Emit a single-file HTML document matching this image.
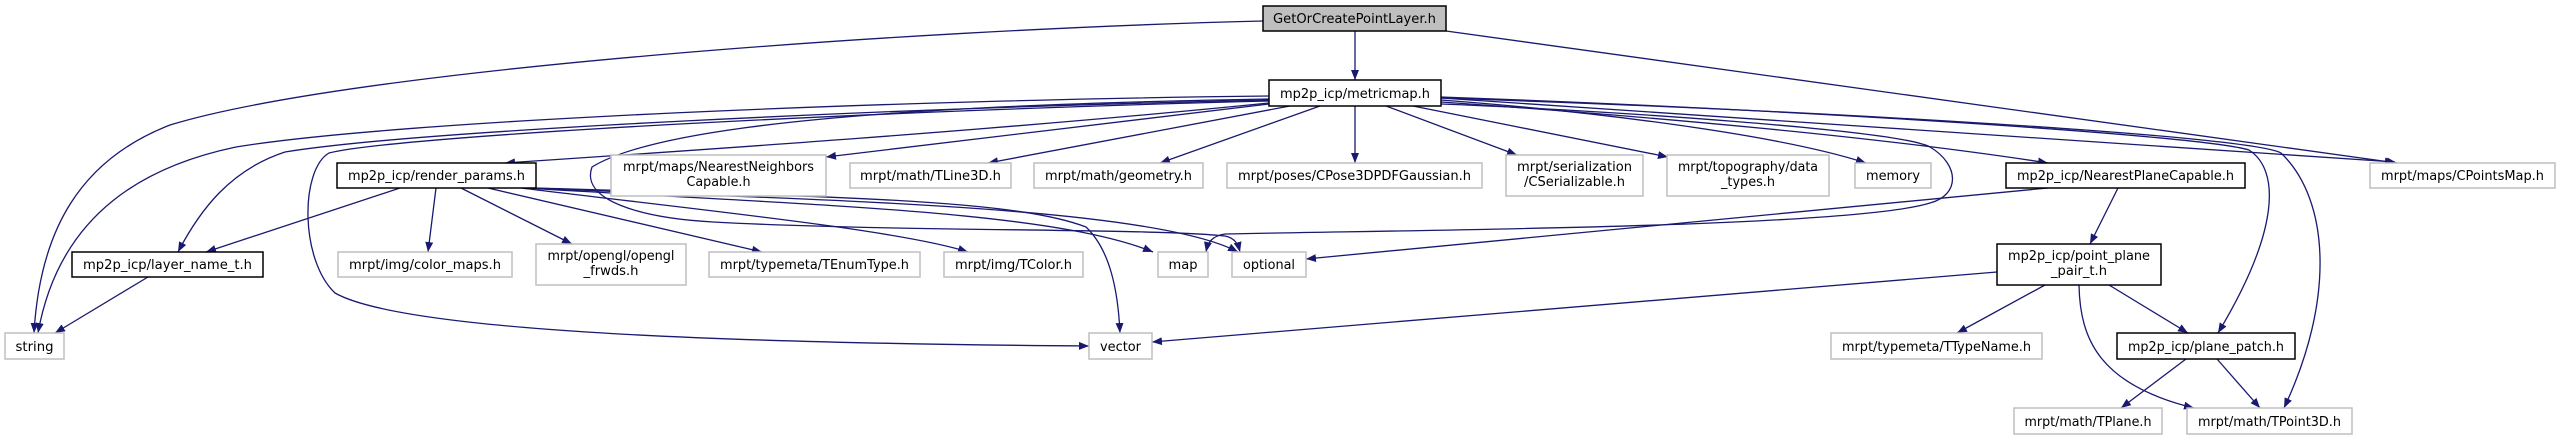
<!DOCTYPE html>
<html><head><meta charset="utf-8"><style>
html,body{margin:0;padding:0;background:#fff;}
svg{display:block;}
text{font-family:"DejaVu Sans","Liberation Sans",sans-serif;font-size:13px;fill:#000;}
.e{fill:none;stroke:#191970;stroke-width:1.3;}
.g{fill:#fff;stroke:#bfbfbf;stroke-width:1.5;}
.b{fill:#fff;stroke:#000;stroke-width:1.5;}
</style></head><body>
<svg width="2568" height="440" viewBox="0 0 2568 440" xmlns="http://www.w3.org/2000/svg">
<defs><marker id="a" viewBox="0 0 10 8" refX="10" refY="4" markerWidth="10" markerHeight="8" markerUnits="userSpaceOnUse" orient="auto"><path d="M0,0 L10,4 L0,8 z" fill="#191970"/></marker></defs>
<g class="e" marker-end="url(#a)">
<path d="M1355,31 L1355,80"/>
<path d="M1263,21 C900,30 350,70 170,125 C80,160 40,230 34,333"/>
<path d="M1446,31 L2397,163"/>
<path d="M1269,96 C900,100 400,120 236,147 C150,165 60,210 38,333"/>
<path d="M1269,100 C900,108 420,130 285,152 C230,170 200,210 178,252"/>
<path d="M1269,101 C900,110 400,135 329,153 C300,170 300,260 335,293 C400,330 700,343 1089,346"/>
<path d="M1269,103 C1000,130 700,150 505,163"/>
<path d="M1269,104 L826,157"/>
<path d="M1269,99 C900,105 660,125 592,167 C580,200 640,218 713,222 C900,232 1150,228 1225,236 C1235,238 1238,244 1240,252"/>
<path d="M1290,106 L988,163"/>
<path d="M1320,106 L1160,163"/>
<path d="M1355,106 L1355,163"/>
<path d="M1386,106 L1517,155"/>
<path d="M1413,106 L1668,157"/>
<path d="M1441,100 C1600,112 1780,135 1866,163"/>
<path d="M1441,102 C1700,120 1900,140 2048,163"/>
<path d="M1441,104 C1600,110 1900,130 1930,147 C1960,165 1960,195 1930,203 C1850,228 1400,230 1225,234 C1212,236 1208,242 1206,252"/>
<path d="M1441,97 C1800,110 2200,135 2249,150 C2280,170 2280,230 2218,333"/>
<path d="M1441,98 C1800,110 2250,135 2281,153 C2330,200 2335,300 2284,408"/>
<path d="M1441,98 L2395,162"/>
<path d="M400,188 L206,252"/>
<path d="M436,188 L428,252"/>
<path d="M461,188 L572,244"/>
<path d="M488,188 L762,252"/>
<path d="M521,188 C700,210 900,230 968,252"/>
<path d="M525,188 C800,205 1050,210 1153,252"/>
<path d="M530,188 C800,200 1150,205 1238,252"/>
<path d="M535,188 C850,197 1015,200 1086,227 C1110,250 1118,290 1120,333"/>
<path d="M148,277 L55,333"/>
<path d="M2048,188 L1306,259"/>
<path d="M2118,188 L2090,244"/>
<path d="M1997,272 L1152,342"/>
<path d="M2045,285 L1957,333"/>
<path d="M2109,285 L2188,333"/>
<path d="M2079,285 C2080,340 2100,385 2194,408"/>
<path d="M2186,359 L2121,408"/>
<path d="M2217,359 L2260,408"/>
</g>
<rect x="1263" y="6" width="183" height="25" fill="#bfbfbf" stroke="#000" stroke-width="1.5"/>
<text x="1354.5" y="23" text-anchor="middle" textLength="163" lengthAdjust="spacingAndGlyphs">GetOrCreatePointLayer.h</text>
<rect class="b" x="1269" y="80" width="172" height="26"/><text x="1355" y="98" text-anchor="middle" textLength="150" lengthAdjust="spacingAndGlyphs">mp2p_icp/metricmap.h</text>
<rect class="b" x="337" y="163" width="199" height="25"/><text x="436.5" y="180" text-anchor="middle" textLength="177" lengthAdjust="spacingAndGlyphs">mp2p_icp/render_params.h</text>
<rect class="g" x="611" y="155" width="215" height="41"/><text x="718.5" y="171" text-anchor="middle" textLength="191" lengthAdjust="spacingAndGlyphs">mrpt/maps/NearestNeighbors</text><text x="718.5" y="186" text-anchor="middle" textLength="64" lengthAdjust="spacingAndGlyphs">Capable.h</text>
<rect class="g" x="850" y="163" width="161" height="25"/><text x="930.5" y="180" text-anchor="middle" textLength="141" lengthAdjust="spacingAndGlyphs">mrpt/math/TLine3D.h</text>
<rect class="g" x="1034" y="163" width="169" height="25"/><text x="1118.5" y="180" text-anchor="middle" textLength="147" lengthAdjust="spacingAndGlyphs">mrpt/math/geometry.h</text>
<rect class="g" x="1227" y="163" width="255" height="25"/><text x="1354.5" y="180" text-anchor="middle" textLength="233" lengthAdjust="spacingAndGlyphs">mrpt/poses/CPose3DPDFGaussian.h</text>
<rect class="g" x="1506" y="155" width="137" height="41"/><text x="1574.5" y="171" text-anchor="middle" textLength="115" lengthAdjust="spacingAndGlyphs">mrpt/serialization</text><text x="1574.5" y="186" text-anchor="middle" textLength="101" lengthAdjust="spacingAndGlyphs">/CSerializable.h</text>
<rect class="g" x="1667" y="155" width="162" height="41"/><text x="1748" y="171" text-anchor="middle" textLength="140" lengthAdjust="spacingAndGlyphs">mrpt/topography/data</text><text x="1748" y="186" text-anchor="middle" textLength="54" lengthAdjust="spacingAndGlyphs">_types.h</text>
<rect class="g" x="1855" y="163" width="76" height="25"/><text x="1893" y="180" text-anchor="middle" textLength="54" lengthAdjust="spacingAndGlyphs">memory</text>
<rect class="b" x="2006" y="163" width="239" height="25"/><text x="2125.5" y="180" text-anchor="middle" textLength="217" lengthAdjust="spacingAndGlyphs">mp2p_icp/NearestPlaneCapable.h</text>
<rect class="g" x="2370" y="163" width="185" height="25"/><text x="2462.5" y="180" text-anchor="middle" textLength="163" lengthAdjust="spacingAndGlyphs">mrpt/maps/CPointsMap.h</text>
<rect class="b" x="72" y="252" width="191" height="25"/><text x="167.5" y="269" text-anchor="middle" textLength="169" lengthAdjust="spacingAndGlyphs">mp2p_icp/layer_name_t.h</text>
<rect class="g" x="338" y="252" width="174" height="25"/><text x="425" y="269" text-anchor="middle" textLength="152" lengthAdjust="spacingAndGlyphs">mrpt/img/color_maps.h</text>
<rect class="g" x="536" y="244" width="150" height="41"/><text x="611" y="260" text-anchor="middle" textLength="127" lengthAdjust="spacingAndGlyphs">mrpt/opengl/opengl</text><text x="611" y="275" text-anchor="middle" textLength="55" lengthAdjust="spacingAndGlyphs">_frwds.h</text>
<rect class="g" x="709" y="252" width="211" height="25"/><text x="814.5" y="269" text-anchor="middle" textLength="189" lengthAdjust="spacingAndGlyphs">mrpt/typemeta/TEnumType.h</text>
<rect class="g" x="944" y="252" width="139" height="25"/><text x="1013.5" y="269" text-anchor="middle" textLength="117" lengthAdjust="spacingAndGlyphs">mrpt/img/TColor.h</text>
<rect class="g" x="1158" y="252" width="50" height="25"/><text x="1183" y="269" text-anchor="middle" textLength="29" lengthAdjust="spacingAndGlyphs">map</text>
<rect class="g" x="1232" y="252" width="74" height="25"/><text x="1269" y="269" text-anchor="middle" textLength="52" lengthAdjust="spacingAndGlyphs">optional</text>
<rect class="b" x="1997" y="244" width="164" height="41"/><text x="2079" y="260" text-anchor="middle" textLength="142" lengthAdjust="spacingAndGlyphs">mp2p_icp/point_plane</text><text x="2079" y="275" text-anchor="middle" textLength="56" lengthAdjust="spacingAndGlyphs">_pair_t.h</text>
<rect class="g" x="5" y="333" width="59" height="26"/><text x="34.5" y="351" text-anchor="middle" textLength="38" lengthAdjust="spacingAndGlyphs">string</text>
<rect class="g" x="1089" y="333" width="63" height="26"/><text x="1120.5" y="351" text-anchor="middle" textLength="41" lengthAdjust="spacingAndGlyphs">vector</text>
<rect class="g" x="1831" y="333" width="211" height="26"/><text x="1936.5" y="351" text-anchor="middle" textLength="189" lengthAdjust="spacingAndGlyphs">mrpt/typemeta/TTypeName.h</text>
<rect class="b" x="2117" y="333" width="178" height="26"/><text x="2206" y="351" text-anchor="middle" textLength="156" lengthAdjust="spacingAndGlyphs">mp2p_icp/plane_patch.h</text>
<rect class="g" x="2014" y="408" width="148" height="26"/><text x="2088" y="426" text-anchor="middle" textLength="127" lengthAdjust="spacingAndGlyphs">mrpt/math/TPlane.h</text>
<rect class="g" x="2187" y="408" width="165" height="26"/><text x="2269.5" y="426" text-anchor="middle" textLength="143" lengthAdjust="spacingAndGlyphs">mrpt/math/TPoint3D.h</text>
</svg>
</body></html>
